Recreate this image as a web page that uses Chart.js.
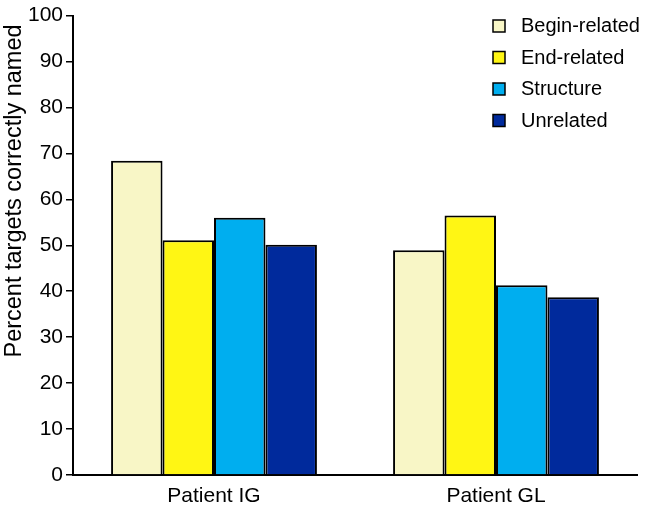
<!DOCTYPE html>
<html>
<head>
<meta charset="utf-8">
<script src="https://cdn.jsdelivr.net/npm/chart.js@4/dist/chart.umd.min.js"></script>
<style>
  html, body { margin: 0; padding: 0; background: #fff; }
  #wrap { width: 651px; height: 509px; }
</style>
</head>
<body>
<div id="wrap"><canvas id="chart"></canvas></div>
<script>
const patients = ["Patient IG", "Patient GL"];
const seriesNames = ["Begin-related", "End-related", "Structure", "Unrelated"];
const beginRelated = [68.4, 48.9];
const endRelated = [51.1, 56.5];
const structure = [56.0, 41.3];
const unrelated = [50.1, 38.7];
const yTicks = [0, 10, 20, 30, 40, 50, 60, 70, 80, 90, 100];
const yTitle = "Percent targets correctly named";

const colors = ["#F8F6C6", "#FFF614", "#00AEEF", "#002A9C"];
const values = [beginRelated, endRelated, structure, unrelated];
const font = "Liberation Sans, Arial, Helvetica, sans-serif";

// legend inside the plot (top right) and the y title, which sits above the axis centre
const extras = {
  id: "extras",
  afterDraw(chart) {
    const ctx = chart.ctx;
    ctx.save();
    ctx.font = "20px " + font;
    ctx.textBaseline = "alphabetic";
    chart.data.datasets.forEach((ds, i) => {
      const base = 32 + i * 31.5;
      ctx.fillStyle = ds.backgroundColor;
      ctx.fillRect(493, base - 12, 12, 12);
      ctx.strokeStyle = "#000";
      ctx.lineWidth = 1.5;
      ctx.strokeRect(493, base - 12, 12, 12);
      ctx.fillStyle = "#000";
      ctx.fillText(ds.label, 521, base);
    });

    ctx.translate(21, 191);
    ctx.rotate(-Math.PI / 2);
    ctx.font = "23.5px " + font;
    ctx.textAlign = "center";
    ctx.fillText(yTitle, 0, 0);
    ctx.restore();
  }
};

new Chart(document.getElementById("chart"), {
  type: "bar",
  data: {
    labels: patients,
    datasets: seriesNames.map((name, i) => ({
      label: name,
      data: values[i],
      backgroundColor: colors[i],
      borderColor: "#000",
      borderWidth: 2,
      borderSkipped: "bottom",
      barPercentage: 1,
      categoryPercentage: 0.73
    }))
  },
  options: {
    responsive: true,
    maintainAspectRatio: false,
    animation: false,
    layout: { padding: { top: 12, right: 14, left: 0, bottom: 0 } },
    plugins: {
      legend: { display: false },
      tooltip: { enabled: false }
    },
    scales: {
      x: {
        grid: { display: false },
        border: { display: true, color: "#000", width: 2 },
        ticks: { color: "#000", font: { size: 21, family: font }, padding: 1 },
        afterFit(scale) { scale.height = 34; }
      },
      y: {
        min: 0,
        max: 100,
        afterBuildTicks(scale) { scale.ticks = yTicks.map(v => ({ value: v })); },
        grid: { drawOnChartArea: false, drawTicks: true, tickLength: 7, color: "#000", lineWidth: 1.5 },
        border: { display: true, color: "#000", width: 2 },
        ticks: { color: "#000", font: { size: 21, family: font }, padding: 3 },
        afterFit(scale) { scale.width = 73; }
      }
    }
  },
  plugins: [extras]
});
</script>
</body>
</html>
